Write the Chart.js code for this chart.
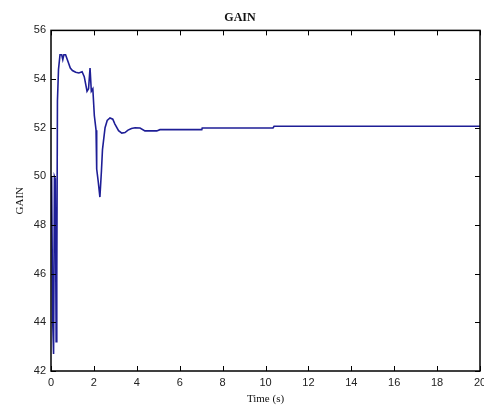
<!DOCTYPE html>
<html>
<head>
<meta charset="utf-8">
<script src="https://cdn.jsdelivr.net/npm/chart.js@4/dist/chart.umd.min.js"></script>
<style>
  html, body { margin: 0; padding: 0; background: #fff; }
  #wrap { width: 484px; height: 406px; }
</style>
</head>
<body>
<div id="wrap"><canvas id="gainChart"></canvas></div>
<script>
// Valeurs (temps en s, gain)
const timeValues = [0, 0.03, 0.08, 0.12, 0.16, 0.2, 0.24, 0.27, 0.3, 0.35, 0.42, 0.5, 0.55, 0.6, 0.68,
    0.8, 0.9, 1.0, 1.15, 1.3, 1.45, 1.55, 1.68, 1.75, 1.82, 1.88, 1.95, 2.02, 2.1, 2.13, 2.2, 2.28,
    2.35, 2.4, 2.52, 2.62, 2.75, 2.88, 2.98, 3.15, 3.3, 3.45, 3.59, 3.75, 3.92, 4.15, 4.38, 4.93, 5.08,
    7.03, 7.05, 10.35, 10.4, 20];
const gainValues = [48, 50, 44, 42.7, 50, 49.9, 43.2, 45.6, 53.1, 54.4, 55.0, 55.0, 54.8, 55.0, 55.0,
    54.7, 54.45, 54.35, 54.28, 54.25, 54.3, 54.1, 53.5, 53.6, 54.45, 53.5, 53.6, 52.5, 51.9, 50.3, 49.8, 49.15,
    50.2, 51.1, 52.0, 52.3, 52.4, 52.35, 52.15, 51.88, 51.78, 51.8, 51.9, 51.97, 52.0, 51.99, 51.87, 51.87, 51.92,
    51.92, 51.99, 51.99, 52.06, 52.06];
const xTicks = [0, 2, 4, 6, 8, 10, 12, 14, 16, 18, 20];
const yTicks = [42, 44, 46, 48, 50, 52, 54, 56];

const points = timeValues.map((t, i) => ({ x: t, y: gainValues[i] }));

// Petites graduations vers l'intérieur, sur les quatre côtés (style MATLAB)
const innerTicks = {
    id: 'innerTicks',
    afterDraw(chart) {
        const { ctx, chartArea: a, scales } = chart;
        const len = 5;
        ctx.save();
        ctx.strokeStyle = '#000';
        ctx.lineWidth = 1;
        ctx.beginPath();
        xTicks.forEach(v => {
            const px = Math.round(scales.x.getPixelForValue(v)) + 0.5;
            ctx.moveTo(px, a.bottom); ctx.lineTo(px, a.bottom - len);
            ctx.moveTo(px, a.top); ctx.lineTo(px, a.top + len);
        });
        yTicks.forEach(v => {
            const py = Math.round(scales.y.getPixelForValue(v)) + 0.5;
            ctx.moveTo(a.left, py); ctx.lineTo(a.left + len, py);
            ctx.moveTo(a.right, py); ctx.lineTo(a.right - len, py);
        });
        ctx.stroke();
        ctx.lineWidth = 1.5;
        ctx.strokeRect(a.left, a.top, a.right - a.left, a.bottom - a.top);
        ctx.restore();
    }
};

new Chart(document.getElementById('gainChart').getContext('2d'), {
    type: 'line',
    data: {
        datasets: [{
            label: 'GAIN',
            data: points,
            borderColor: '#1e1e96',
            borderWidth: 1.6,
            pointRadius: 0,
            tension: 0,
            fill: false
        }]
    },
    options: {
        responsive: true,
        maintainAspectRatio: false,
        animation: false,
        layout: { padding: { left: 0, right: 4, top: 0, bottom: 0 } },
        plugins: {
            legend: { display: false },
            tooltip: { enabled: false },
            title: {
                display: true,
                text: 'GAIN',
                color: '#111',
                font: { family: 'Liberation Serif', size: 12, weight: 'bold' },
                padding: { top: 11, bottom: 5 }
            }
        },
        scales: {
            x: {
                type: 'linear',
                min: 0,
                max: 20,
                afterBuildTicks: scale => { scale.ticks = xTicks.map(v => ({ value: v })); },
                afterFit: scale => { scale.height = 35; scale.paddingLeft = 0; scale.paddingRight = 0; },
                grid: { display: false, drawTicks: false },
                border: { display: false },
                ticks: {
                    color: '#222',
                    padding: 5,
                    maxRotation: 0,
                    font: { family: 'Liberation Sans', size: 11 }
                },
                title: {
                    display: true,
                    text: 'Time (s)',
                    color: '#111',
                    padding: { top: 0, bottom: 0 },
                    font: { family: 'Liberation Serif', size: 11 }
                }
            },
            y: {
                min: 42,
                max: 56,
                afterBuildTicks: scale => { scale.ticks = yTicks.map(v => ({ value: v })); },
                afterFit: scale => { scale.width = 51; },
                grid: { display: false, drawTicks: false },
                border: { display: false },
                ticks: {
                    color: '#222',
                    padding: 5,
                    font: { family: 'Liberation Sans', size: 11 }
                },
                title: {
                    display: true,
                    text: 'GAIN',
                    color: '#111',
                    padding: { top: 14, bottom: 0 },
                    font: { family: 'Liberation Serif', size: 11 }
                }
            }
        }
    },
    plugins: [innerTicks]
});
</script>
</body>
</html>
